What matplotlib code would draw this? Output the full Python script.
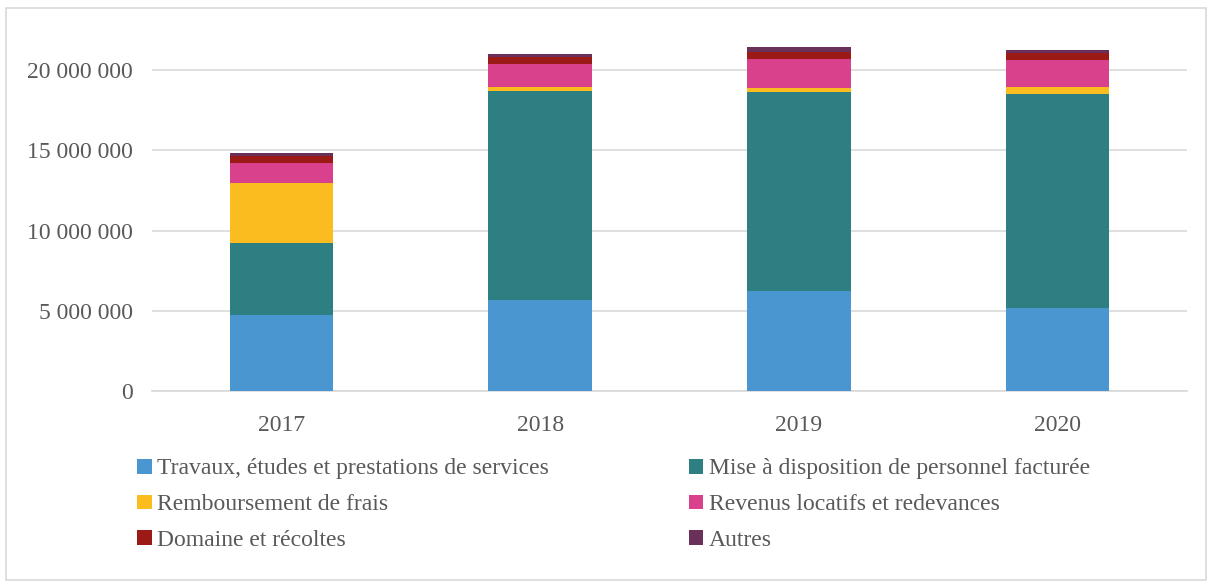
import matplotlib
matplotlib.use("Agg")
import matplotlib.pyplot as plt
from matplotlib.patches import Patch, Rectangle
from matplotlib.ticker import FuncFormatter
import numpy as np

years = ["2017", "2018", "2019", "2020"]
series_names = [
    "Travaux, études et prestations de services",
    "Mise à disposition de personnel facturée",
    "Remboursement de frais",
    "Revenus locatifs et redevances",
    "Domaine et récoltes",
    "Autres",
]
travaux = [4740000, 5670000, 6230000, 5170000]
personnel = [4480000, 13040000, 12420000, 13350000]
remboursement = [3740000, 210000, 230000, 440000]
revenus = [1240000, 1450000, 1790000, 1660000]
domaine = [460000, 460000, 430000, 440000]
autres = [150000, 150000, 310000, 170000]
colors = ["#4A96D0", "#2E7F82", "#FBBC1F", "#D9418D", "#9B1A15", "#6B3059"]

plt.rcParams["font.family"] = ["Liberation Serif", "DejaVu Serif"]
text_color = "#595959"
fs = 17

fig = plt.figure(figsize=(12.12, 5.86), dpi=100)
ax = fig.add_axes([152 / 1212, 1 - 391 / 586, (1187 - 152) / 1212, (391 - 30) / 586])

x = np.arange(len(years))
bottom = np.zeros(len(years))
data = [travaux, personnel, remboursement, revenus, domaine, autres]
for vals, c, name in zip(data, colors, series_names):
    ax.bar(x, vals, width=0.4, bottom=bottom, color=c, label=name, zorder=3)
    bottom += np.array(vals)

ax.set_xlim(-0.5, 3.5)
ax.set_ylim(0, 22500000)
ax.set_yticks([0, 5000000, 10000000, 15000000, 20000000])
ax.yaxis.set_major_formatter(FuncFormatter(lambda v, p: f"{int(v):,}".replace(",", " ")))
ax.set_xticks(x)
ax.set_xticklabels(years)
ax.grid(axis="y", color="#D9D9D9", linewidth=1.2, zorder=0)
for s in ["top", "right", "left"]:
    ax.spines[s].set_visible(False)
ax.spines["bottom"].set_color("#D9D9D9")
ax.spines["bottom"].set_linewidth(1.2)
ax.tick_params(axis="both", length=0, labelsize=fs, colors=text_color)
ax.tick_params(axis="y", pad=14)
ax.tick_params(axis="x", pad=17)

# legend filled row by row, as in the reference
order = [0, 2, 4, 1, 3, 5]
handles = [Patch(facecolor=colors[i], edgecolor="none") for i in order]
labels = [series_names[i] for i in order]
leg = fig.legend(handles, labels, loc="upper left", bbox_to_anchor=(128 / 1212, 1 - 449 / 586),
                 ncol=2, frameon=False, fontsize=fs, handlelength=0.6, handleheight=0.6,
                 handletextpad=0.22, columnspacing=5.95, labelspacing=0.63, borderaxespad=0)
for t in leg.get_texts():
    t.set_color(text_color)

fig.patches.append(Rectangle((6 / 1212, 1 - 580 / 586), 1200 / 1212, 572 / 586,
                             transform=fig.transFigure, fill=False, edgecolor="#D9D9D9", linewidth=1.2))

fig.savefig("out.png", dpi=100)
